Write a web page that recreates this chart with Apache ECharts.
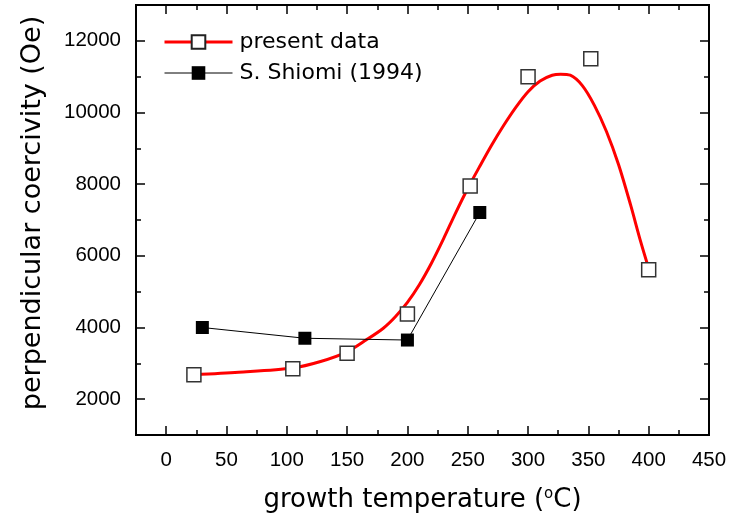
<!DOCTYPE html>
<html><head><meta charset="utf-8">
<script src="https://cdn.jsdelivr.net/npm/echarts@6/dist/echarts.min.js"></script>
<style>html,body{margin:0;padding:0;background:#fff}#c{width:729px;height:525px}</style>
</head><body><div id="c"></div>
<script>
// measured points: present data (open squares)
const presentTemp = [23, 105, 150, 200, 252, 300, 352, 400];
const presentHc   = [2680, 2850, 3280, 4380, 7950, 11000, 11500, 5610];
// S. Shiomi (1994) (filled squares)
const shiomiTemp = [30, 115, 200, 260];
const shiomiHc   = [4000, 3700, 3650, 7210];
// red guide curve
const fitTemp = [23, 60, 105, 128, 150, 166, 180, 190, 200, 210, 220, 230, 240, 250, 260, 270, 280, 290, 300, 310, 320, 327, 335, 345, 355, 365, 375, 385, 393, 400];
const fitHc   = [2680, 2750, 2870, 3050, 3320, 3655, 3980, 4300, 4700, 5200, 5800, 6480, 7200, 7880, 8500, 9100, 9650, 10150, 10580, 10880, 11040, 11070, 11040, 10750, 10200, 9470, 8550, 7420, 6440, 5650];
// ticks
const xMajorTicks = [0, 50, 100, 150, 200, 250, 300, 350, 400, 450];
const xMinorTicks = [25, 75, 125, 175, 225, 275, 325, 375, 425];
const yMajorTicks = [2000, 4000, 6000, 8000, 10000, 12000];
const yMinorTicks = [3000, 5000, 7000, 9000, 11000];

const X_MIN = -25, X_MAX = 450, Y_MIN = 1000, Y_MAX = 13000;
const FONT = 'DejaVu Sans, Liberation Sans, sans-serif';
const TICK_FONT = 'Liberation Sans, Arial, sans-serif';

function zip(a, b) { return a.map((v, i) => [v, b[i]]); }

function xAxisDef(pos, ticks, len, withLabels, extra) {
  return Object.assign({
    type: 'value', position: pos, min: X_MIN, max: X_MAX,
    axisLine: { show: true, onZero: false, lineStyle: { color: '#000', width: 2 } },
    axisTick: { show: true, inside: true, length: len, customValues: ticks, lineStyle: { color: '#000', width: 1.5 } },
    axisLabel: withLabels ? { show: true, customValues: ticks, margin: 15, fontSize: 20.5, color: '#000', fontFamily: TICK_FONT,
      formatter: v => String(v) } : { show: false },
    splitLine: { show: false }
  }, extra || {});
}
function yAxisDef(pos, ticks, len, withLabels, extra) {
  return Object.assign({
    type: 'value', position: pos, min: Y_MIN, max: Y_MAX,
    axisLine: { show: true, onZero: false, lineStyle: { color: '#000', width: 2 } },
    axisTick: { show: true, inside: true, length: len, customValues: ticks, lineStyle: { color: '#000', width: 1.5 } },
    axisLabel: withLabels ? { show: true, customValues: ticks, margin: 15, fontSize: 20.5, color: '#000', fontFamily: TICK_FONT,
      formatter: v => String(v) } : { show: false },
    splitLine: { show: false }
  }, extra || {});
}

const chart = echarts.init(document.getElementById('c'), null, { renderer: 'canvas' });
chart.setOption({
  backgroundColor: '#fff',
  animation: false,
  grid: { left: 136, right: 20, top: 5, bottom: 90, containLabel: false, outerBoundsMode: 'none' },
  legend: {
    data: [
      { name: 'present data', lineStyle: { width: 3, color: '#ff0000' } },
      { name: 'S. Shiomi (1994)', lineStyle: { width: 1, color: '#000' } }
    ],
    orient: 'vertical', left: 158, top: 26,
    itemWidth: 68, itemHeight: 17, itemGap: 9,
    textStyle: { fontSize: 22, color: '#000', fontFamily: FONT, padding: [0, 0, 0, 2] }
  },
  xAxis: [
    xAxisDef('bottom', xMajorTicks, 9, true, {
      name: 'growth temperature ({sup|o}C)', nameLocation: 'middle', nameGap: 52,
      nameTextStyle: { fontSize: 26, color: '#000', fontFamily: FONT,
        rich: { sup: { fontSize: 15, verticalAlign: 'top', color: '#000', fontFamily: FONT, padding: [0, 0, 9, 0] } } }
    }),
    xAxisDef('bottom', xMinorTicks, 5, false),
    xAxisDef('top', xMajorTicks, 9, false),
    xAxisDef('top', xMinorTicks, 5, false)
  ],
  yAxis: [
    yAxisDef('left', yMajorTicks, 9, true, {
      name: 'perpendicular coercivity (Oe)', nameLocation: 'middle', nameGap: 90,
      nameTextStyle: { fontSize: 27, color: '#000', fontFamily: FONT, padding: [0, 0, 0, 14] }
    }),
    yAxisDef('left', yMinorTicks, 5, false),
    yAxisDef('right', yMajorTicks, 9, false),
    yAxisDef('right', yMinorTicks, 5, false)
  ],
  series: [
    {
      name: 'present data', type: 'line', xAxisIndex: 0, yAxisIndex: 0,
      data: zip(fitTemp, fitHc), smooth: 0.3, showSymbol: false, symbol: 'rect', symbolSize: 14,
      lineStyle: { color: '#ff0000', width: 3 },
      itemStyle: { color: '#ffffff', borderColor: '#222', borderWidth: 1.2 },
      z: 2
    },
    {
      name: 'S. Shiomi (1994)', type: 'line', xAxisIndex: 0, yAxisIndex: 0,
      data: zip(shiomiTemp, shiomiHc), symbol: 'rect', symbolSize: 13,
      lineStyle: { color: '#000', width: 1 },
      itemStyle: { color: '#000' },
      z: 3
    },
    {
      name: 'present data', type: 'scatter', xAxisIndex: 0, yAxisIndex: 0,
      data: zip(presentTemp, presentHc), symbol: 'rect', symbolSize: 14,
      itemStyle: { color: '#ffffff', borderColor: '#333', borderWidth: 1.5, opacity: 1 },
      z: 4
    }
  ]
});
</script></body></html>
